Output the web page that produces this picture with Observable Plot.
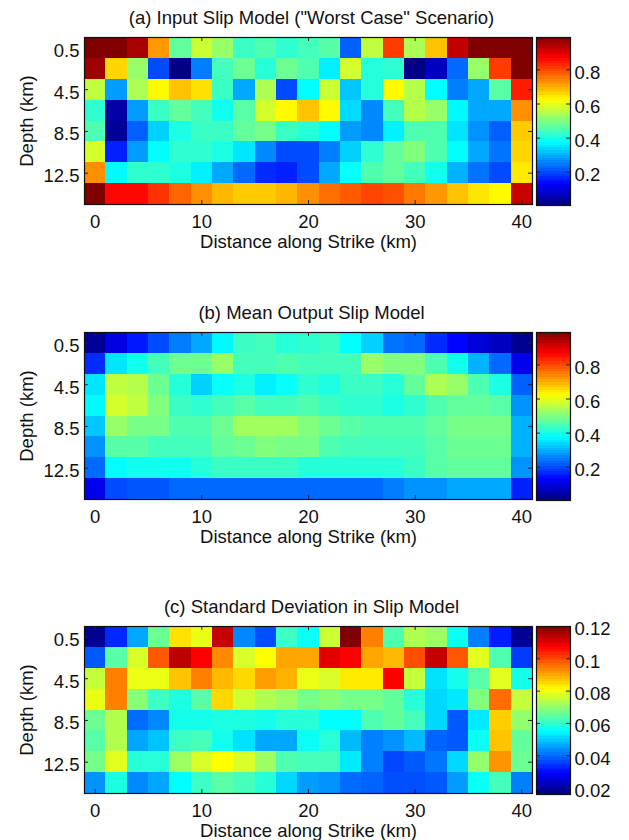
<!DOCTYPE html>
<html>
<head>
<meta charset="utf-8">
<script src="https://cdn.jsdelivr.net/npm/d3@7"></script>
<script src="https://cdn.jsdelivr.net/npm/@observablehq/plot@0.6"></script>
<style>
  html, body { margin: 0; padding: 0; background: white; overflow: hidden; }
  #root { position: relative; width: 629px; height: 840px; }
  .panel { position: absolute; left: 0; width: 629px; }
  .panel svg { position: absolute; top: 0; overflow: visible; }
</style>
</head>
<body>
<div id="root"></div>
<script>
// ---- Data ----
const depths = [0.5, 2.5, 4.5, 6.5, 8.5, 10.5, 12.5, 14.5];           // km, row centres
const distances = [0, 2, 4, 6, 8, 10, 12, 14, 16, 18, 20, 22, 24, 26, 28, 30, 32, 34, 36, 38, 40]; // km, column centres
const xTicks = [0, 10, 20, 30, 40];
const yTicks = [0.5, 4.5, 8.5, 12.5];
const slipTicks = [0.2, 0.4, 0.6, 0.8];
const stdTicks = [0.02, 0.04, 0.06, 0.08, 0.1, 0.12];

const titles = [
  '(a) Input Slip Model ("Worst Case" Scenario)',
  '(b) Mean Output Slip Model',
  '(c) Standard Deviation in Slip Model'
];
const xLabel = "Distance along Strike (km)";
const yLabel = "Depth (km)";

const inputSlip = [
  [0.99,0.99,0.95,0.72,0.47,0.57,0.52,0.43,0.45,0.42,0.44,0.46,0.22,0.56,0.81,0.54,0.68,0.925,0.99,0.99,0.99],
  [0.96,0.66,0.52,0.20,0.01,0.25,0.44,0.48,0.41,0.48,0.45,0.36,0.58,0.41,0.42,0.01,0.07,0.23,0.52,0.81,0.99],
  [0.56,0.28,0.54,0.625,0.68,0.65,0.43,0.29,0.54,0.20,0.375,0.57,0.32,0.41,0.625,0.55,0.375,0.25,0.29,0.46,0.84],
  [0.42,0.04,0.28,0.43,0.47,0.44,0.39,0.46,0.58,0.625,0.68,0.625,0.34,0.26,0.44,0.55,0.52,0.37,0.29,0.29,0.73],
  [0.45,0.03,0.22,0.33,0.40,0.43,0.43,0.47,0.49,0.43,0.41,0.375,0.28,0.26,0.36,0.45,0.45,0.35,0.27,0.22,0.67],
  [0.58,0.16,0.28,0.375,0.42,0.42,0.40,0.35,0.26,0.20,0.20,0.25,0.33,0.42,0.47,0.50,0.45,0.375,0.29,0.24,0.66],
  [0.73,0.37,0.42,0.42,0.40,0.36,0.29,0.23,0.17,0.16,0.20,0.29,0.38,0.45,0.47,0.44,0.39,0.30,0.24,0.20,0.64],
  [0.99,0.86,0.86,0.82,0.77,0.73,0.69,0.67,0.67,0.69,0.73,0.76,0.78,0.80,0.79,0.75,0.72,0.68,0.645,0.625,0.92]
];

const meanSlip = [
  [0.03,0.10,0.15,0.20,0.25,0.29,0.37,0.43,0.44,0.41,0.42,0.43,0.375,0.33,0.24,0.23,0.17,0.13,0.09,0.07,0.02],
  [0.17,0.35,0.39,0.44,0.48,0.48,0.52,0.44,0.44,0.45,0.44,0.44,0.44,0.52,0.50,0.50,0.45,0.39,0.30,0.23,0.11],
  [0.35,0.56,0.55,0.48,0.41,0.33,0.38,0.40,0.36,0.38,0.42,0.40,0.43,0.43,0.41,0.47,0.54,0.52,0.45,0.40,0.22],
  [0.37,0.58,0.56,0.50,0.43,0.42,0.44,0.46,0.44,0.44,0.45,0.43,0.42,0.42,0.40,0.42,0.45,0.47,0.47,0.46,0.27],
  [0.32,0.52,0.49,0.49,0.45,0.45,0.48,0.53,0.53,0.53,0.50,0.48,0.46,0.45,0.45,0.45,0.47,0.49,0.49,0.49,0.30],
  [0.27,0.46,0.46,0.44,0.44,0.44,0.47,0.48,0.50,0.49,0.49,0.45,0.44,0.44,0.44,0.44,0.46,0.48,0.48,0.48,0.30],
  [0.23,0.375,0.39,0.39,0.39,0.41,0.43,0.43,0.43,0.43,0.41,0.41,0.41,0.41,0.41,0.43,0.46,0.47,0.47,0.47,0.27],
  [0.11,0.20,0.21,0.21,0.23,0.23,0.23,0.23,0.23,0.23,0.23,0.23,0.23,0.23,0.25,0.27,0.27,0.29,0.29,0.29,0.16]
];

const stdSlip = [
  [0.018,0.033,0.046,0.066,0.084,0.079,0.113,0.043,0.037,0.061,0.056,0.076,0.120,0.094,0.063,0.073,0.071,0.056,0.042,0.032,0.018],
  [0.038,0.064,0.077,0.098,0.114,0.107,0.093,0.077,0.081,0.090,0.090,0.110,0.107,0.090,0.088,0.099,0.113,0.098,0.078,0.063,0.035],
  [0.075,0.094,0.079,0.079,0.087,0.094,0.088,0.085,0.091,0.089,0.079,0.077,0.083,0.083,0.107,0.075,0.052,0.057,0.064,0.078,0.057],
  [0.079,0.094,0.069,0.061,0.058,0.064,0.085,0.076,0.073,0.071,0.067,0.069,0.067,0.067,0.065,0.059,0.051,0.053,0.068,0.096,0.075],
  [0.066,0.073,0.040,0.043,0.057,0.057,0.058,0.058,0.057,0.059,0.059,0.055,0.055,0.063,0.065,0.062,0.051,0.038,0.053,0.086,0.070],
  [0.064,0.073,0.046,0.049,0.061,0.062,0.057,0.052,0.046,0.046,0.056,0.059,0.048,0.042,0.044,0.048,0.039,0.038,0.056,0.087,0.065],
  [0.067,0.078,0.059,0.059,0.071,0.077,0.081,0.077,0.071,0.063,0.062,0.062,0.053,0.042,0.036,0.038,0.041,0.051,0.070,0.092,0.066],
  [0.044,0.058,0.043,0.046,0.055,0.061,0.064,0.062,0.059,0.051,0.045,0.044,0.040,0.039,0.037,0.037,0.038,0.045,0.056,0.062,0.042]
];

const slipDomain = [0.005, 0.99];
const stdDomain = [0.016, 0.120];

// ---- MATLAB "jet" colormap as interpolator ----
function jet(t) {
  t = Math.max(0, Math.min(1, t));
  const c = v => Math.round(255 * Math.max(0, Math.min(1, v)));
  const r = c(1.5 - Math.abs(4 * t - 3));
  const g = c(1.5 - Math.abs(4 * t - 2));
  const b = c(1.5 - Math.abs(4 * t - 1));
  return `rgb(${r},${g},${b})`;
}

const FONT = '"Liberation Sans", Arial, Helvetica, sans-serif';
const FS = 18.5;
const MT = 37, MB = 48, H = 252;
const frameH = H - MT - MB;        // 167
const HM_W = 536, HM_ML = 84, HM_MR = 4;
const frameW = HM_W - HM_ML - HM_MR; // 448
const CB_W = 93, CB_MR = 59;
const cbW = CB_W - CB_MR;          // 34
const TICK = 4;

function panel(title, grid, domain, cbTicks, top) {
  const table = depths.flatMap((depth, i) => distances.map((x, j) => ({x, depth, v: grid[i][j]})));
  const color = {type: "linear", domain, interpolate: jet};
  const style = {fontFamily: FONT, fontSize: FS + "px", background: "transparent", overflow: "visible", color: "#111"};

  const heat = Plot.plot({
    width: HM_W, height: H,
    marginLeft: HM_ML, marginRight: HM_MR, marginTop: MT, marginBottom: MB,
    style,
    x: {domain: [-1, 41]},
    y: {domain: [-0.5, 15.5], reverse: true},
    color,
    marks: [
      Plot.rect(table, {
        x1: d => d.x - 1, x2: d => d.x + 1,
        y1: d => d.depth - 1, y2: d => d.depth + 1,
        fill: "v", shapeRendering: "crispEdges"
      }),
      Plot.tickX(xTicks, {x: d => d, insetTop: frameH - TICK, stroke: "#222"}),
      Plot.tickX(xTicks, {x: d => d, insetBottom: frameH - TICK, stroke: "#222"}),
      Plot.tickY(yTicks, {y: d => d, insetRight: frameW - TICK, stroke: "#222"}),
      Plot.tickY(yTicks, {y: d => d, insetLeft: frameW - TICK, stroke: "#222"}),
      Plot.frame({stroke: "#111", strokeWidth: 1.2}),
      Plot.axisX(xTicks, {tickSize: 0, tickPadding: 10, label: null, fontSize: FS}),
      Plot.axisY(yTicks, {tickSize: 0, tickPadding: 5, label: null, fontSize: FS, dy: 3, tickFormat: d => String(d)}),
      Plot.text([title], {frameAnchor: "top", lineAnchor: "middle", textAnchor: "middle", dy: -19, dx: 3, fontSize: FS}),
      Plot.text([xLabel], {frameAnchor: "bottom", lineAnchor: "middle", textAnchor: "middle", dy: 38, fontSize: FS}),
      Plot.text([yLabel], {frameAnchor: "left", lineAnchor: "middle", textAnchor: "middle", dx: -57, rotate: -90, fontSize: FS})
    ]
  });

  const n = 64;
  const slices = d3.range(n).map(i => ({
    y1: domain[0] + (domain[1] - domain[0]) * i / n,
    y2: domain[0] + (domain[1] - domain[0]) * (i + 1) / n
  }));
  const bar = Plot.plot({
    width: CB_W, height: H,
    marginLeft: 0, marginRight: CB_MR, marginTop: MT, marginBottom: MB - 1,
    style,
    x: {domain: [0, 1], axis: null},
    y: {domain},
    color,
    marks: [
      Plot.rect(slices, {x1: () => 0, x2: () => 1, y1: "y1", y2: "y2", fill: d => (d.y1 + d.y2) / 2, shapeRendering: "crispEdges"}),
      Plot.tickY(cbTicks, {y: d => d, insetRight: cbW - TICK, stroke: "#222"}),
      Plot.tickY(cbTicks, {y: d => d, insetLeft: cbW - TICK, stroke: "#222"}),
      Plot.frame({stroke: "#111", strokeWidth: 1.2}),
      Plot.axisY(cbTicks, {anchor: "right", tickSize: 0, tickPadding: 4, label: null, fontSize: FS, dy: 3, tickFormat: d => String(d)})
    ]
  });

  const div = document.createElement("div");
  div.className = "panel";
  div.style.top = top + "px";
  div.style.height = H + "px";
  heat.style.left = "0px";
  bar.style.left = HM_W + "px";
  div.appendChild(heat);
  div.appendChild(bar);
  document.getElementById("root").appendChild(div);
}

panel(titles[0], inputSlip, slipDomain, slipTicks, 0);
panel(titles[1], meanSlip, slipDomain, slipTicks, 295);
panel(titles[2], stdSlip, stdDomain, stdTicks, 589);
</script>
</body>
</html>
